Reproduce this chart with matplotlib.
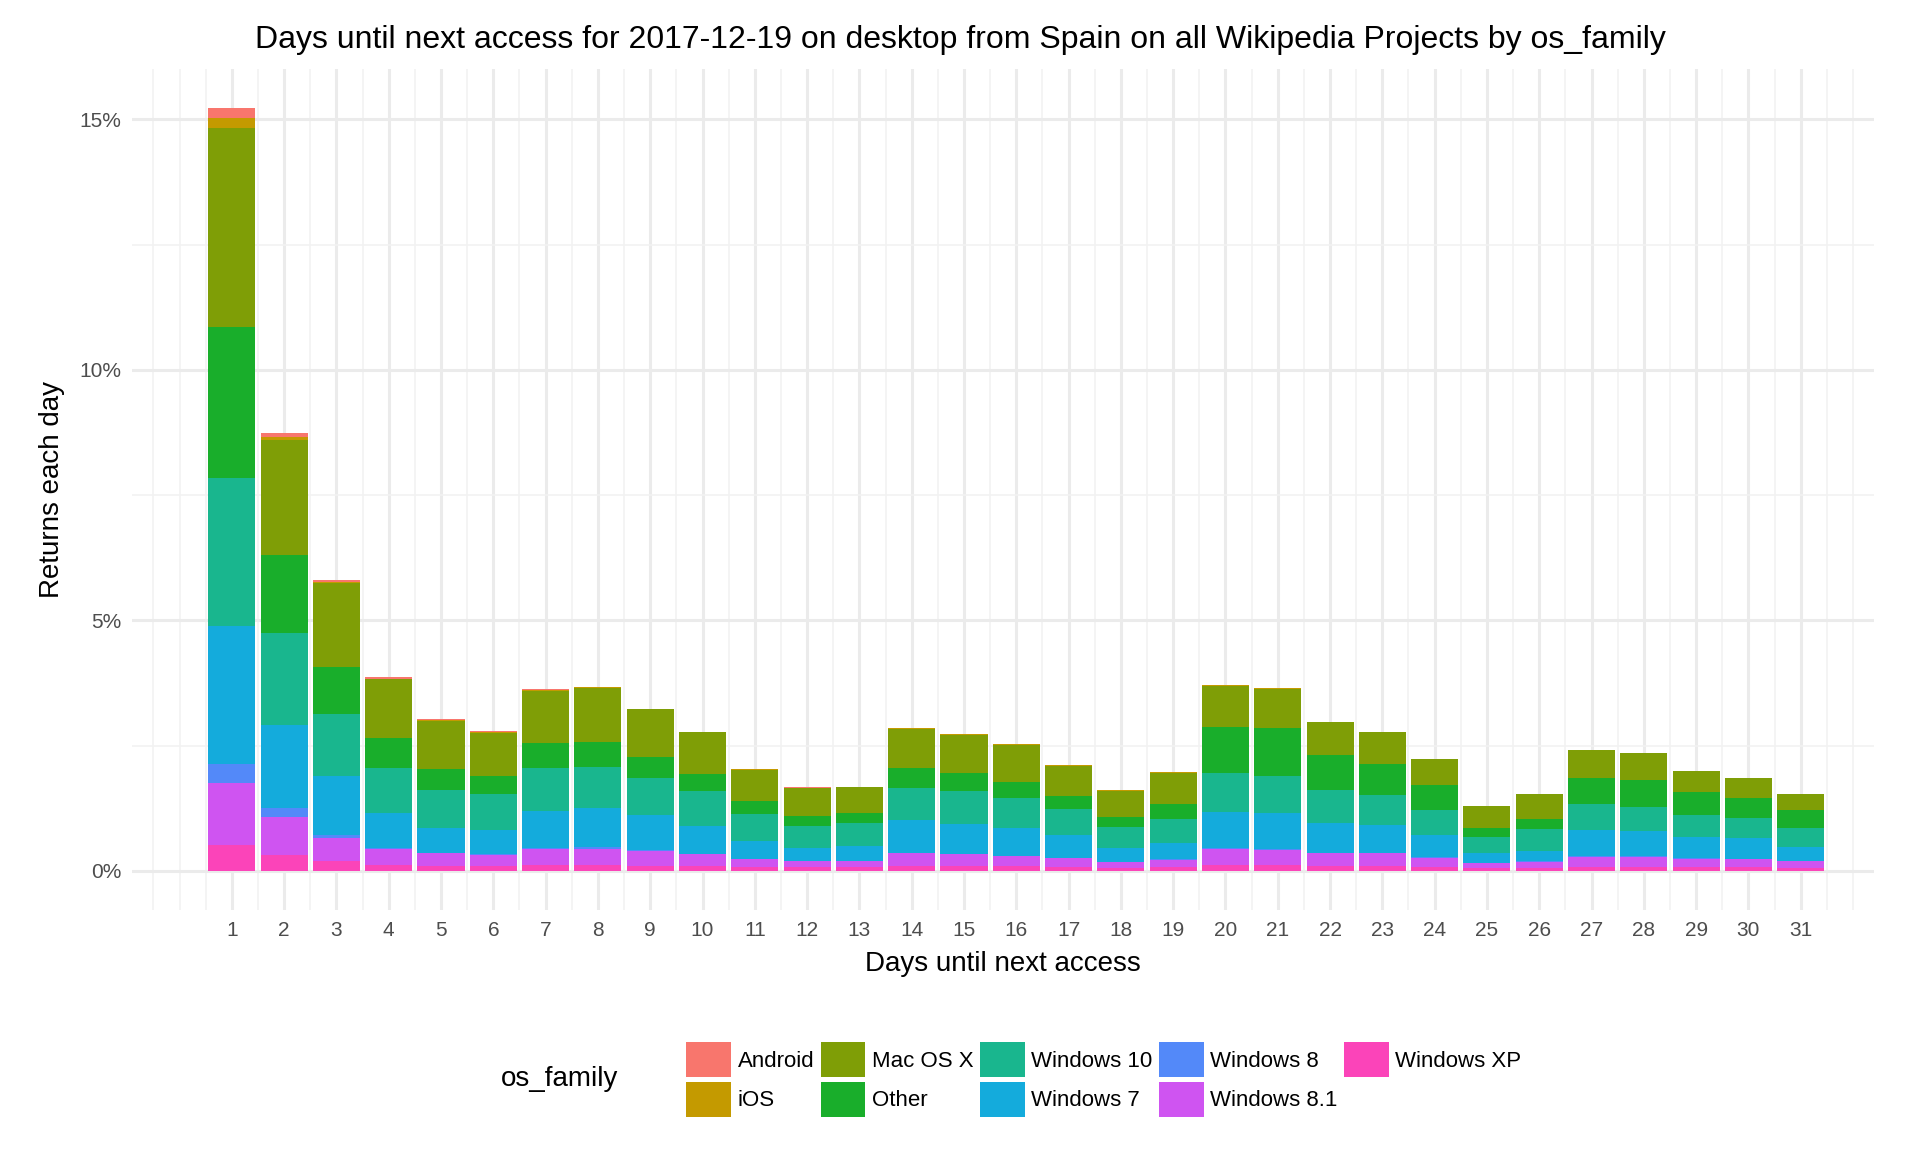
import numpy as np
import matplotlib.pyplot as plt
from matplotlib.ticker import FuncFormatter, MultipleLocator

plt.rcParams['font.family'] = ['Liberation Sans', 'DejaVu Sans']

days = np.arange(1, 32)
# stacked bottom to top
os_names = ['Windows XP', 'Windows 8.1', 'Windows 8', 'Windows 7', 'Windows 10',
            'Other', 'Mac OS X', 'iOS', 'Android']
colors = {'Android': '#F8766D', 'iOS': '#C49A00', 'Mac OS X': '#7F9E06', 'Other': '#19AE2B',
          'Windows 10': '#19B68E', 'Windows 7': '#14ABDC', 'Windows 8': '#5389F9',
          'Windows 8.1': '#CF54F1', 'Windows XP': '#FB44B9'}

win_xp = [0.51, 0.32, 0.20, 0.12, 0.10, 0.10, 0.12, 0.12, 0.10, 0.10, 0.08, 0.07, 0.07, 0.10, 0.10, 0.09,
          0.08, 0.06, 0.07, 0.12, 0.12, 0.10, 0.10, 0.08, 0.05, 0.05, 0.08, 0.08, 0.07, 0.07, 0.06]
win_81 = [1.25, 0.76, 0.46, 0.32, 0.25, 0.22, 0.31, 0.32, 0.30, 0.23, 0.15, 0.12, 0.12, 0.25, 0.23, 0.20,
          0.17, 0.11, 0.15, 0.32, 0.30, 0.25, 0.25, 0.18, 0.10, 0.13, 0.20, 0.20, 0.17, 0.16, 0.13]
win_8 = [0.37, 0.17, 0.05, 0.02, 0.01, 0.01, 0.02, 0.03, 0.01, 0.01, 0.01, 0.01, 0.01, 0.01, 0.01, 0.01,
         0.01, 0.01, 0.01, 0.02, 0.02, 0.01, 0.01, 0.01, 0.01, 0.01, 0.01, 0.01, 0.01, 0.01, 0.01]
win_7 = [2.75, 1.67, 1.18, 0.70, 0.50, 0.48, 0.75, 0.78, 0.70, 0.55, 0.35, 0.25, 0.30, 0.65, 0.60, 0.55,
         0.45, 0.28, 0.32, 0.72, 0.72, 0.60, 0.55, 0.45, 0.20, 0.21, 0.52, 0.50, 0.43, 0.42, 0.28]
win_10 = [2.96, 1.83, 1.25, 0.90, 0.75, 0.72, 0.85, 0.83, 0.75, 0.70, 0.55, 0.45, 0.45, 0.65, 0.66, 0.60,
          0.52, 0.42, 0.48, 0.77, 0.74, 0.65, 0.60, 0.50, 0.32, 0.43, 0.52, 0.48, 0.44, 0.40, 0.37]
other = [3.02, 1.55, 0.93, 0.60, 0.42, 0.36, 0.50, 0.50, 0.42, 0.35, 0.25, 0.20, 0.20, 0.40, 0.35, 0.33,
         0.27, 0.20, 0.30, 0.93, 0.95, 0.70, 0.63, 0.50, 0.17, 0.20, 0.52, 0.55, 0.45, 0.40, 0.36]
mac = [3.97, 2.30, 1.67, 1.17, 0.97, 0.87, 1.05, 1.08, 0.95, 0.83, 0.63, 0.56, 0.52, 0.78, 0.77, 0.74,
       0.60, 0.52, 0.63, 0.82, 0.79, 0.67, 0.64, 0.52, 0.45, 0.50, 0.57, 0.53, 0.43, 0.40, 0.32]
ios = [0.19, 0.05, 0.03, 0.01, 0.01, 0.01, 0.01, 0.01, 0.005, 0.005, 0.01, 0.005, 0.005, 0.005, 0.005, 0.01,
       0.01, 0.01, 0.01, 0.005, 0.01, 0, 0, 0, 0, 0, 0, 0, 0, 0, 0]
android = [0.20, 0.08, 0.03, 0.03, 0.03, 0.02, 0.02, 0.01, 0.005, 0.005, 0.01, 0.005, 0.005, 0.005, 0.005, 0.01,
           0.01, 0.01, 0.01, 0.005, 0.01, 0, 0, 0, 0, 0, 0, 0, 0, 0, 0]
series = [win_xp, win_81, win_8, win_7, win_10, other, mac, ios, android]

fig = plt.figure(figsize=(19.2, 11.52), dpi=100)
ax = fig.add_axes([0.069, 0.21, 0.907, 0.73])
bottom = np.zeros(len(days))
handles = {}
for name, vals in zip(os_names, series):
    vals = np.array(vals)
    b = ax.bar(days, vals, width=0.9, bottom=bottom, color=colors[name], label=name, zorder=2)
    handles[name] = b
    bottom += vals

ax.set_xlim(-0.9, 32.4)
ax.set_ylim(-0.78, 16.0)
ax.set_xticks(days)
ax.xaxis.set_minor_locator(MultipleLocator(0.5))
ax.yaxis.set_major_locator(MultipleLocator(5))
ax.yaxis.set_minor_locator(MultipleLocator(2.5))
ax.yaxis.set_major_formatter(FuncFormatter(lambda v, p: '%d%%' % v))
ax.grid(which='major', color='#EBEBEB', linewidth=2.2, zorder=0)
ax.grid(which='minor', color='#F2F2F2', linewidth=1.2, zorder=0)
for s in ax.spines.values():
    s.set_visible(False)
ax.tick_params(which='both', length=0, labelsize=15, colors='#4D4D4D', pad=8)
ax.set_xlabel('Days until next access', fontsize=20, labelpad=8)
ax.set_ylabel('Returns each day', fontsize=20, labelpad=10)
fig.text(0.5, 0.965, 'Days until next access for 2017-12-19 on desktop from Spain on all Wikipedia Projects by os_family',
         fontsize=23, ha='center', va='center')

order = ['Android', 'iOS', 'Mac OS X', 'Other', 'Windows 10', 'Windows 7',
         'Windows 8', 'Windows 8.1', 'Windows XP']
fig.legend([handles[n] for n in order], order, ncol=5, loc='center', bbox_to_anchor=(0.575, 0.063),
           frameon=False, fontsize=16, handlelength=2.0, handleheight=2.0, handletextpad=0.3,
           columnspacing=0.3, labelspacing=0.25)
fig.text(0.322, 0.063, 'os_family', fontsize=20, ha='right', va='center')

fig.savefig('out.png', dpi=100)
